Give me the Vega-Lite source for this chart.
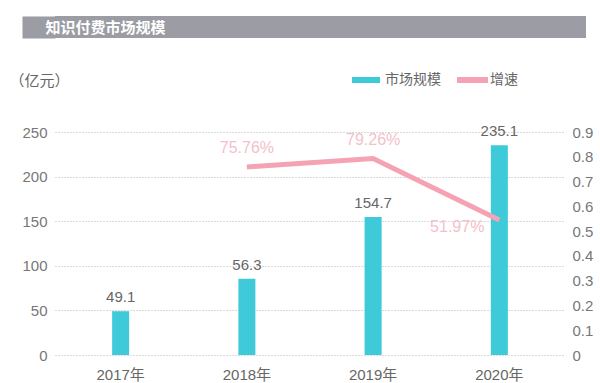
{
  "$schema": "https://vega.github.io/schema/vega-lite/v6.json",
  "padding": {"left": 9, "top": 16, "right": 0, "bottom": 0},
  "background": "white",
  "spacing": 32,
  "columns": 1,
  "resolve": {"legend": {"color": "independent"}},
  "config": {
    "view": {"stroke": null},
    "font": "Liberation Sans, Noto Sans CJK SC"
  },
  "datasets": {
    "main": [
      {"year": "2017年", "size": 49.1, "sizeLabel": "49.1", "rate": null, "rateLabel": null},
      {"year": "2018年", "size": 85.5, "sizeLabel": "56.3", "rate": 0.759, "rateLabel": "75.76%"},
      {"year": "2019年", "size": 154.7, "sizeLabel": "154.7", "rate": 0.793, "rateLabel": "79.26%"},
      {"year": "2020年", "size": 235.1, "sizeLabel": "235.1", "rate": 0.545, "rateLabel": "51.97%"}
    ]
  },
  "concat": [
    {
      "width": 531,
      "height": 22,
      "view": {"fill": "#9b9ca4", "stroke": null},
      "data": {"values": [{"a": 1}]},
      "mark": {"type": "text", "text": ""},
      "encoding": {
        "y": {
          "datum": 0.5,
          "type": "quantitative",
          "scale": {"domain": [0, 1]},
          "axis": {
            "values": [0.5],
            "labels": false,
            "ticks": true,
            "tickSize": 33,
            "tickWidth": 22,
            "tickColor": "#9b9ca4",
            "tickCap": "butt",
            "domain": false,
            "grid": false,
            "title": "知识付费市场规模",
            "titleAngle": 0,
            "titleX": -10,
            "titleY": 11,
            "titleAlign": "left",
            "titleBaseline": "middle",
            "titleColor": "#ffffff",
            "titleFont": "Noto Sans CJK SC",
            "titleFontSize": 15,
            "titleFontWeight": "bold"
          }
        }
      }
    },
    {
      "width": 510,
      "height": 223,
      "data": {"name": "main"},
      "encoding": {
        "x": {
          "field": "year",
          "type": "nominal",
          "sort": null,
          "scale": {"paddingInner": 0, "paddingOuter": 0.02},
          "axis": {"title": null, "domain": false, "ticks": false, "labelAngle": 0, "labelPadding": 12, "labelFontSize": 15, "labelColor": "#666666", "labelFont": "Liberation Sans, Noto Sans CJK SC"}
        }
      },
      "layer": [
        {
          "encoding": {
            "y": {
              "field": "size",
              "type": "quantitative",
              "scale": {"domain": [0, 250]},
              "axis": {
                "values": [0, 50, 100, 150, 200, 250],
                "title": "（亿元）",
                "titleAngle": 0,
                "titleAlign": "left",
                "titleBaseline": "middle",
                "titleX": -46,
                "titleY": -52,
                "titleFont": "Noto Sans CJK SC",
                "titleFontSize": 15,
                "titleFontWeight": "normal",
                "titleColor": "#666666",
                "grid": true,
                "gridDash": [1, 2],
                "gridColor": "#b4b4b4",
                "domain": false,
                "ticks": false,
                "labelPadding": 8,
                "labelFontSize": 15,
                "labelColor": "#777777"
              }
            }
          },
          "layer": [
            {
              "mark": {"type": "bar", "width": 17},
              "encoding": {
                "color": {
                  "datum": "市场规模",
                  "type": "nominal",
                  "scale": {"domain": ["市场规模", "增速"], "range": ["#3ecad9", "#f5a3b4"]},
                  "legend": {
                    "orient": "none",
                    "legendX": 297,
                    "legendY": -62,
                    "direction": "horizontal",
                    "title": null,
                    "padding": 0,
                    "symbolSize": 400,
                    "symbolType": "M-1,-0.3H1.8V0.3H-1Z",
                    "symbolStrokeWidth": 0,
                    "symbolOpacity": 1,
                    "labelOffset": 13,
                    "labelFont": "Noto Sans CJK SC",
                    "labelFontSize": 14,
                    "labelColor": "#666666",
                    "columnPadding": 16,
                    "encode": {
                      "symbols": {
                        "update": {
                          "shape": {"signal": "datum.value === '增速' ? 'M-1,-0.3H2.1V0.3H-1Z' : 'M-1,-0.3H1.8V0.3H-1Z'"},
                          "fill": {"scale": "color", "field": "value"},
                          "strokeWidth": {"value": 0}
                        }
                      }
                    }
                  }
                }
              }
            },
            {
              "mark": {"type": "text", "baseline": "middle", "dy": -14, "fontSize": 15, "color": "#666666"},
              "encoding": {"text": {"field": "sizeLabel"}}
            }
          ]
        },
        {
          "transform": [{"filter": "datum.rate != null"}],
          "encoding": {
            "y": {
              "field": "rate",
              "type": "quantitative",
              "scale": {"domain": [0, 0.9]},
              "axis": {
                "orient": "right",
                "values": [0, 0.1, 0.2, 0.3, 0.4, 0.5, 0.6, 0.7, 0.8, 0.9],
                "format": ".1~f",
                "title": null,
                "grid": false,
                "domain": false,
                "ticks": false,
                "labelPadding": 7,
                "labelFontSize": 15,
                "labelColor": "#777777"
              }
            }
          },
          "layer": [
            {
              "mark": {"type": "line", "strokeWidth": 5},
              "encoding": {"color": {"datum": "增速", "type": "nominal"}}
            },
            {
              "transform": [{"filter": "datum.year != '2020年'"}],
              "mark": {"type": "text", "baseline": "middle", "dy": -19, "fontSize": 16, "color": "#f3c1ca"},
              "encoding": {"text": {"field": "rateLabel"}}
            },
            {
              "transform": [{"filter": "datum.year == '2020年'"}],
              "mark": {"type": "text", "baseline": "middle", "align": "right", "dx": -15, "dy": 7, "fontSize": 16, "color": "#f3c1ca"},
              "encoding": {"text": {"field": "rateLabel"}}
            }
          ]
        }
      ],
      "resolve": {"scale": {"y": "independent"}}
    }
  ]
}
